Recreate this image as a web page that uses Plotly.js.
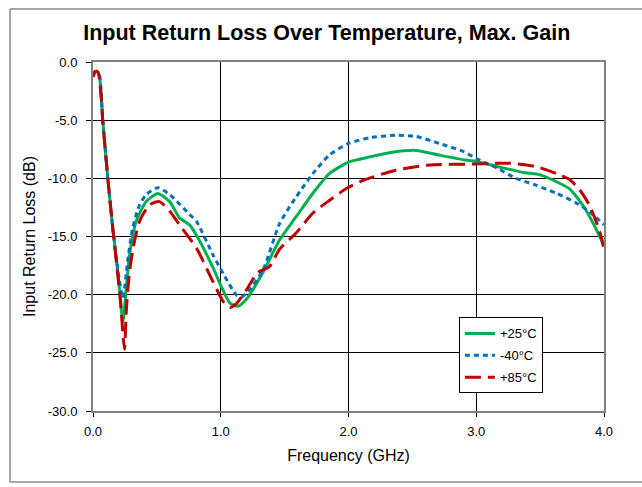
<!DOCTYPE html>
<html><head><meta charset="utf-8">
<script src="https://cdn.plot.ly/plotly-3.0.1.min.js"></script>
<style>html,body{margin:0;padding:0;background:#fff}#chart{width:642px;height:487px}</style>
</head><body><div id="chart"></div>
<script>
const freq25 = [0, 0.03, 0.05, 0.077, 0.116, 0.155, 0.194, 0.234, 0.26, 0.286, 0.338, 0.416, 0.508, 0.6, 0.677, 0.756, 0.81, 0.94, 1.0, 1.07, 1.134, 1.2, 1.33, 1.46, 1.59, 1.72, 1.85, 2.0, 2.17, 2.32, 2.53, 2.71, 2.9, 3.0, 3.21, 3.37, 3.5, 3.63, 3.73, 3.84, 3.94, 4.0];
const rl25 = [-1.0, -0.8, -1.2, -5.1, -10.0, -14.3, -18.0, -22.3, -19.5, -16.6, -13.7, -12.0, -11.3, -12.0, -13.4, -14.0, -14.9, -17.7, -19.2, -20.7, -21.0, -20.4, -18.1, -15.3, -13.3, -11.3, -9.6, -8.6, -8.15, -7.8, -7.6, -8.0, -8.4, -8.55, -9.1, -9.5, -9.7, -10.3, -10.9, -12.4, -14.4, -15.8];

const freqM40 = [0, 0.03, 0.05, 0.077, 0.116, 0.155, 0.194, 0.234, 0.27, 0.31, 0.36, 0.416, 0.508, 0.6, 0.756, 0.81, 0.94, 1.03, 1.12, 1.16, 1.2, 1.33, 1.46, 1.59, 1.72, 1.85, 2.0, 2.17, 2.37, 2.53, 2.71, 2.9, 3.0, 3.16, 3.31, 3.47, 3.63, 3.78, 3.89, 4.0];
const rlM40 = [-0.9, -0.8, -1.1, -5.1, -10.0, -14.3, -17.8, -20.3, -17.2, -14.3, -12.4, -11.4, -10.8, -11.4, -13.1, -13.7, -16.6, -18.4, -20.0, -20.2, -19.9, -17.9, -13.9, -11.6, -9.6, -8.0, -7.0, -6.5, -6.3, -6.4, -7.0, -7.7, -8.3, -9.1, -10.0, -10.6, -11.3, -12.1, -12.9, -14.0];

const freq85 = [0, 0.02, 0.04, 0.06, 0.077, 0.116, 0.155, 0.194, 0.215, 0.235, 0.247, 0.26, 0.286, 0.325, 0.364, 0.44, 0.52, 0.6, 0.677, 0.81, 0.94, 1.02, 1.07, 1.12, 1.2, 1.29, 1.38, 1.46, 1.59, 1.72, 1.85, 1.98, 2.11, 2.37, 2.63, 3.0, 3.26, 3.47, 3.63, 3.73, 3.81, 3.89, 3.97, 4.0];
const rl85 = [-1.3, -0.8, -0.9, -2.5, -5.1, -10.0, -14.3, -18.3, -20.5, -23.5, -24.7, -21.5, -18.0, -15.4, -13.7, -12.3, -12.0, -12.8, -14.0, -16.0, -18.9, -20.6, -21.1, -20.8, -19.6, -18.1, -17.6, -16.1, -14.7, -13.0, -11.9, -10.9, -10.2, -9.3, -8.86, -8.77, -8.7, -9.0, -9.6, -10.1, -11.0, -12.4, -14.7, -16.1];

const seriesNames = ['+25°C', '-40°C', '+85°C'];
const xTicks = [0, 1, 2, 3, 4];
const yTicks = [0, -5, -10, -15, -20, -25, -30];

const font = 'Arial, "Liberation Sans", sans-serif';
const traces = [
  {x: freq25, y: rl25, name: seriesNames[0], legendgroup: 'a', mode: 'lines', line: {color: '#00b050', width: 3, shape: 'spline', smoothing: 0.6}},
  {x: freqM40, y: rlM40, name: seriesNames[1], legendgroup: 'b', mode: 'lines', line: {color: '#0070c0', width: 3, dash: '5px,4px', shape: 'spline', smoothing: 0.6}},
  {x: freq85, y: rl85, name: seriesNames[2], legendgroup: 'c', mode: 'lines', line: {color: '#c00000', width: 3, dash: '16px,7px', shape: 'spline', smoothing: 0.6}}
];
const layout = {
  width: 642, height: 487,
  margin: {l: 93, r: 38, t: 62, b: 76},
  paper_bgcolor: '#fff', plot_bgcolor: '#fff',
  font: {family: font, color: '#000', size: 13},
  title: {text: '<b>Input Return Loss Over Temperature, Max. Gain</b>', font: {family: font, size: 21.5, color: '#000'}, x: 0.509, xref: 'container', xanchor: 'center', y: 0.934, yref: 'container', yanchor: 'middle'},
  xaxis: {range: [0, 4], tickvals: xTicks, ticktext: xTicks.map(v => v.toFixed(1)), showgrid: true, gridcolor: '#000', gridwidth: 1,
    showline: true, linecolor: '#808080', linewidth: 2, mirror: true, ticks: 'outside', ticklen: 4, tickcolor: '#000',
    tickfont: {size: 13, family: font}, zeroline: false, ticklabelstandoff: 3,
    title: {text: 'Frequency (GHz)', font: {size: 16, family: font}, standoff: 12}},
  yaxis: {range: [-30, 0], tickvals: yTicks, ticktext: yTicks.map(v => v.toFixed(1)), showgrid: true, gridcolor: '#000', gridwidth: 1,
    showline: true, linecolor: '#808080', linewidth: 2, mirror: true, ticks: 'outside', ticklen: 5, tickcolor: '#000',
    tickfont: {size: 13, family: font}, zeroline: false, ticklabelstandoff: 6,
    title: {text: 'Input Return Loss (dB)', font: {size: 16, family: font}, standoff: 8}},
  legend: {x: 0.716, y: 0.268, xanchor: 'left', yanchor: 'top', bgcolor: '#fff', bordercolor: '#000', borderwidth: 1,
    font: {size: 13, family: font}, traceorder: 'grouped', tracegroupgap: 2, itemwidth: 30},
  shapes: [{type: 'rect', xref: 'paper', yref: 'paper', x0: -0.1624, x1: 1.2, y0: -0.2034, y1: 1.1519, line: {color: '#555', width: 1}, fillcolor: 'rgba(0,0,0,0)', layer: 'below'}]
};
Plotly.newPlot('chart', traces, layout, {displayModeBar: false, staticPlot: true});
</script></body></html>
